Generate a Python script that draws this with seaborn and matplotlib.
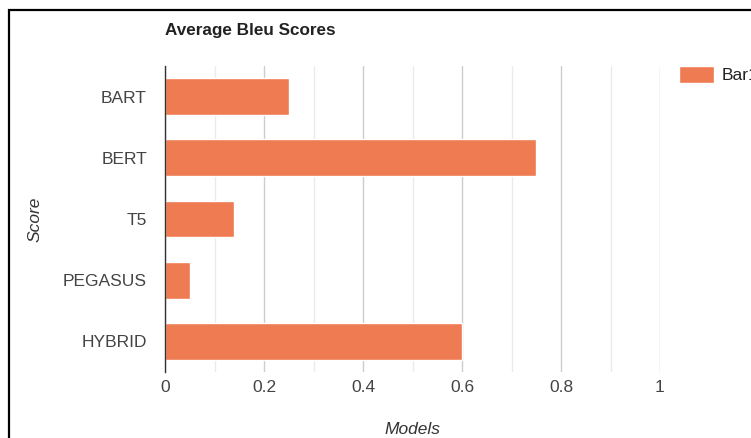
import pandas as pd
import seaborn as sns
import matplotlib.pyplot as plt
from matplotlib.patches import Rectangle
from matplotlib.ticker import MultipleLocator

# Data
models = ['BART', 'BERT', 'T5', 'PEGASUS', 'HYBRID']
scores = [0.25, 0.75, 0.14, 0.05, 0.60]
series = ['Bar1'] * len(models)
x_ticks = [0, 0.2, 0.4, 0.6, 0.8, 1.0]
x_tick_labels = ['0', '0.2', '0.4', '0.6', '0.8', '1']

df = pd.DataFrame({'Model': models, 'Score': scores, 'Series': series})

sns.set_style('white')
plt.rcParams['font.family'] = ['Liberation Sans', 'DejaVu Sans']

fig = plt.figure(figsize=(7.51, 4.38), dpi=100)
ax = fig.add_axes([165 / 751, 1 - 372 / 438, 495 / 751, 306 / 438])

bar_color = '#ef7b52'
sns.barplot(data=df, y='Model', x='Score', hue='Series', palette=[bar_color],
            orient='h', width=0.6, ax=ax, saturation=1, zorder=3)

ax.set_xlim(0, 1)
ax.set_ylim(4.5, -0.5)

# grid lines: darker on labelled ticks, lighter in between
ax.xaxis.set_major_locator(MultipleLocator(0.2))
ax.xaxis.set_minor_locator(MultipleLocator(0.1))
ax.grid(axis='x', which='major', color='#cccccc', linewidth=1, zorder=0)
ax.grid(axis='x', which='minor', color='#ebebeb', linewidth=1, zorder=0)
ax.set_axisbelow(True)
ax.set_xticks(x_ticks)
ax.set_xticklabels(x_tick_labels)

for s in ['top', 'right', 'bottom']:
    ax.spines[s].set_visible(False)
ax.spines['left'].set_color('#333333')
ax.spines['left'].set_linewidth(1)
ax.spines['left'].set_zorder(4)

ax.tick_params(axis='both', which='both', length=0, labelsize=12.5, labelcolor='#444444')
ax.tick_params(axis='x', pad=6)
ax.tick_params(axis='y', pad=13)

ax.set_xlabel('Models', fontsize=12.5, style='italic', color='#333333')
ax.set_ylabel('Score', fontsize=12.5, style='italic', color='#333333')
ax.xaxis.set_label_coords(0.5, (372 - 430) / 306)
ax.yaxis.set_label_coords((35 - 165) / 495, 0.5)
ax.xaxis.label.set_va('center')
ax.yaxis.label.set_va('center')

fig.text(165 / 751, 1 - 30 / 438, 'Average Bleu Scores', fontsize=12.3,
         fontweight='bold', color='#222222', va='center', ha='left')

ax.legend(loc='upper left', bbox_to_anchor=(670 / 751, 1 - 57 / 438),
          bbox_transform=fig.transFigure, frameon=False, fontsize=12.5,
          handlelength=2.05, handleheight=1.2, handletextpad=0.4, borderpad=0,
          labelcolor='#222222')

# outer frame of the original screenshot
fig.patches.append(Rectangle((9 / 751, -0.05), 1.1, 1 - 10 / 438 + 0.05,
                             transform=fig.transFigure, fill=False,
                             edgecolor='black', linewidth=1.6))

fig.savefig('out.png', dpi=100)
